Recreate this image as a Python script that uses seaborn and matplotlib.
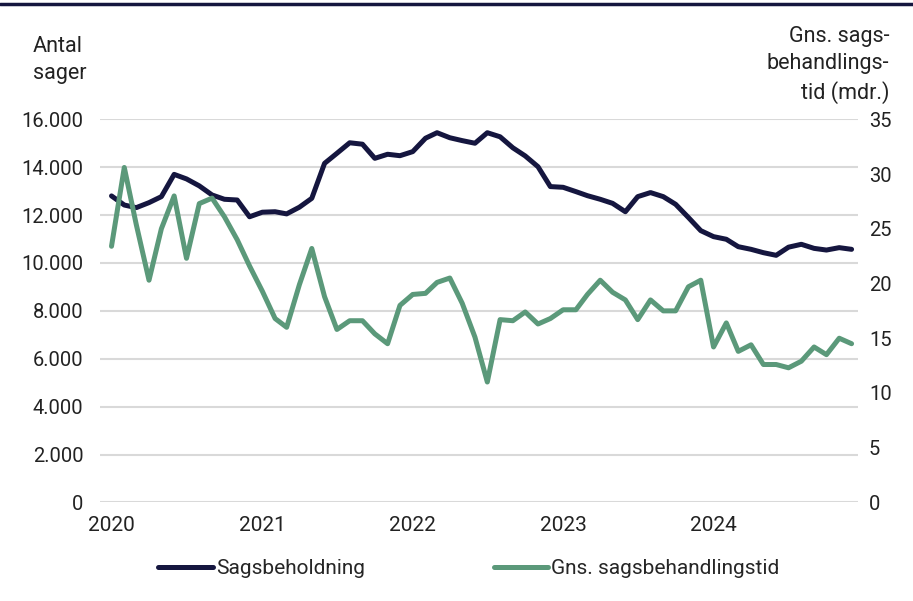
import matplotlib
matplotlib.use("Agg")
import matplotlib.pyplot as plt
import matplotlib.ticker as mticker
import seaborn as sns
import pandas as pd

# Monthly data, Jan 2020 - Dec 2024
months = pd.date_range("2020-01-01", "2024-12-01", freq="MS")

# Sagsbeholdning (antal sager)
sagsbeholdning = [
    12800, 12420, 12310, 12520, 12770, 13700, 13510, 13220, 12840, 12660, 12630, 11930,
    12120, 12140, 12050, 12330, 12700, 14160, 14580, 15020, 14960, 14370, 14540, 14480,
    14650, 15210, 15440, 15230, 15110, 15000, 15440, 15270, 14810, 14470, 14020, 13190,
    13160, 12980, 12810, 12660, 12490, 12140, 12770, 12940, 12770, 12450, 11900, 11350,
    11100, 10990, 10680, 10570, 10430, 10320, 10660, 10780, 10610, 10540, 10640, 10570,
]

# Gns. sagsbehandlingstid (mdr.)
behandlingstid = [
    23.4, 30.6, 25.4, 20.3, 25.0, 28.0, 22.3, 27.3, 27.8, 26.1, 24.0, 21.6,
    19.3, 16.8, 16.0, 19.9, 23.2, 18.8, 15.8, 16.6, 16.6, 15.4, 14.5, 18.0,
    19.0, 19.1, 20.1, 20.5, 18.2, 15.1, 11.0, 16.7, 16.6, 17.4, 16.3, 16.8,
    17.6, 17.6, 19.0, 20.3, 19.2, 18.5, 16.7, 18.5, 17.5, 17.5, 19.7, 20.3,
    14.2, 16.4, 13.8, 14.4, 12.6, 12.6, 12.3, 12.9, 14.2, 13.5, 15.0, 14.5,
]

left_ticks = [0, 2000, 4000, 6000, 8000, 10000, 12000, 14000, 16000]
right_ticks = [0, 5, 10, 15, 20, 25, 30, 35]
year_ticks = pd.to_datetime(["2020-01-01", "2021-01-01", "2022-01-01", "2023-01-01", "2024-01-01"])
year_labels = ["2020", "2021", "2022", "2023", "2024"]

df = pd.DataFrame({"Måned": months, "Sagsbeholdning": sagsbeholdning,
                   "Gns. sagsbehandlingstid": behandlingstid})

navy = "#15163f"
green = "#5b997a"
grid_col = "#d9d9d9"
txt_col = "#222222"

sns.set_style("white")
plt.rcParams["font.family"] = ["Roboto", "DejaVu Sans"]
plt.rcParams["font.size"] = 14.5

fig = plt.figure(figsize=(9.13, 6.01), dpi=100)
ax = fig.add_axes([0.1095, 0.164, 0.830, 0.6375])
ax2 = ax.twinx()

sns.lineplot(data=df, x="Måned", y="Sagsbeholdning", ax=ax, color=navy,
             linewidth=3.6, label="Sagsbeholdning", legend=False)
sns.lineplot(data=df, x="Måned", y="Gns. sagsbehandlingstid", ax=ax2, color=green,
             linewidth=3.6, label="Gns. sagsbehandlingstid", legend=False)

# axes limits
ax.set_ylim(0, 16000)
ax2.set_ylim(0, 35)
ax.set_xlim(pd.Timestamp("2019-12-04"), pd.Timestamp("2024-12-16"))

ax.set_yticks(left_ticks)
ax.yaxis.set_major_formatter(mticker.FuncFormatter(lambda v, p: f"{int(v):,}".replace(",", ".")))
ax2.set_yticks(right_ticks)
ax.set_xticks(year_ticks)
ax.set_xticklabels(year_labels)

ax.grid(axis="y", color=grid_col, linewidth=1.5)
ax.grid(axis="x", visible=False)
ax2.grid(False)
ax.set_axisbelow(True)

for a in (ax, ax2):
    for s in a.spines.values():
        s.set_visible(False)
    a.set_xlabel("")
    a.set_ylabel("")
    a.tick_params(length=0, colors=txt_col, labelsize=14.5)
ax.tick_params(axis="x", labelsize=15)
ax.tick_params(axis="y", pad=12)
ax2.tick_params(axis="y", pad=8)
ax.tick_params(axis="x", pad=10)

# axis titles
fig.text(33 / 913, 1 - 60 / 601, "Antal\nsager", ha="left", va="center",
         fontsize=15.5, color=txt_col, linespacing=1.38)
fig.text(889 / 913, 1 - 65 / 601, "Gns. sags-\nbehandlings-\ntid (mdr.)", ha="right",
         va="center", fontsize=15.5, color=txt_col, linespacing=1.38)

# top rule
fig.add_artist(plt.Line2D([0, 1], [1 - 4 / 601, 1 - 4 / 601], color=navy,
                          linewidth=2.5, transform=fig.transFigure))

h1, l1 = ax.get_legend_handles_labels()
h2, l2 = ax2.get_legend_handles_labels()
fig.legend(h1 + h2, l1 + l2, loc="center", bbox_to_anchor=(469 / 913, 1 - 569 / 601),
           ncol=2, frameon=False, fontsize=15, handlelength=2.6,
           handletextpad=0.15, columnspacing=6.2)

fig.savefig("out.png", dpi=100)
